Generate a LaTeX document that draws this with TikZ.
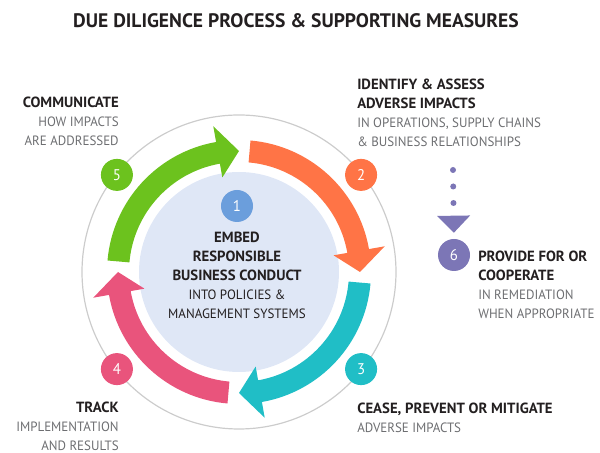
\documentclass[tikz,border=0pt]{standalone}
\usepackage{fontspec}
\setmainfont{PT Sans}[UprightFeatures={FakeStretch=0.96}]
\usetikzlibrary{arrows.meta,positioning}
\definecolor{ring-green}{RGB}{108,194,30}
\definecolor{ring-orange}{RGB}{255,116,70}
\definecolor{ring-cyan}{RGB}{32,190,198}
\definecolor{ring-pink}{RGB}{233,84,124}
\definecolor{core-blue}{RGB}{223,231,246}
\definecolor{num-blue}{RGB}{107,158,220}
\definecolor{num-purple}{RGB}{124,118,182}
\definecolor{light-gray}{gray}{0.80}
\definecolor{text-dark}{RGB}{35,31,32}
\definecolor{text-gray}{RGB}{109,110,113}

\tikzset{
  stepnum/.style={circle, fill=#1, minimum size=0.8cm, inner sep=0pt, text=white,
    font=\fontsize{11}{13}\selectfont},
  steptext/.style={inner sep=0pt, text=text-dark, font=\fontsize{9.6}{13.47}\selectfont},
  dotline/.style={num-purple, line width=0.15cm, line cap=round,
    dash pattern=on 0pt off 0.4125cm, shorten >=0.15cm,
    -{Triangle[width=0.825cm, length=0.425cm, line width=0pt]}}
}
\newcommand{\hd}[1]{{\fontsize{10.5}{13.47}\selectfont\bfseries #1}}
\newcommand{\gr}[1]{\textcolor{text-gray}{#1}}
% #1 colour, #2 angle of the tip
\newcommand{\ringarrow}[2]{%
  \fill[#1] ({#2+85}:132) arc[start angle={#2+85}, end angle={#2+10}, radius=132]
    -- ({#2+10}:148) -- (#2:121) -- ({#2+10}:96) -- ({#2+10}:110)
    arc[start angle={#2+10}, end angle={#2+85}, radius=110] -- cycle;}

\begin{document}
\begin{tikzpicture}[x=0.025cm, y=0.025cm]
\useasboundingbox (0,0) rectangle (600,453);

\node[steptext, anchor=north, font=\fontsize{13.9}{16}\selectfont\bfseries] (title) at (296,440)
  {DUE DILIGENCE PROCESS \& SUPPORTING MEASURES};

% the cycle
\begin{scope}[shift={(239,181)}]
\draw[light-gray, line width=0.03cm] (0,0) circle (157);
\fill[core-blue] (0,0) circle (100);
\ringarrow{ring-green}{90}
\ringarrow{ring-orange}{0}
\ringarrow{ring-cyan}{-90}
\ringarrow{ring-pink}{180}
\node[stepnum=num-blue] (n1) at (-2,66) {1};
\node[stepnum=ring-orange] (n2) at (38.5:156) {2};
\node[stepnum=ring-cyan] (n3) at (-38.5:156) {3};
\node[stepnum=ring-pink] (n4) at (218.5:156) {4};
\node[stepnum=ring-green] (n5) at (141.5:156) {5};
\end{scope}

\node[stepnum=num-purple] (n6) at (454,198) {6};

\node[steptext, anchor=north, align=center] (embed) at (237,221)
  {\hd{EMBED}\\ \hd{RESPONSIBLE}\\ \hd{BUSINESS CONDUCT}\\ INTO POLICIES \&\\ MANAGEMENT SYSTEMS};
\node[steptext, anchor=north west, align=left] (identify) at (357,374)
  {\hd{IDENTIFY \& ASSESS}\\ \hd{ADVERSE IMPACTS}\\ \gr{IN OPERATIONS, SUPPLY CHAINS}\\ \gr{\& BUSINESS RELATIONSHIPS}};
\node[steptext, anchor=north west, align=left] (cease) at (357,50)
  {\hd{CEASE, PREVENT OR MITIGATE}\\ \gr{ADVERSE IMPACTS}};
\node[steptext, anchor=north east, align=right] (track) at (119,51)
  {\hd{TRACK}\\ \gr{IMPLEMENTATION}\\ \gr{AND RESULTS}};
\node[steptext, anchor=north east, align=right] (communicate) at (119,356)
  {\hd{COMMUNICATE}\\ \gr{HOW IMPACTS}\\ \gr{ARE ADDRESSED}};
\node[steptext, anchor=north west, align=left] (provide) at (478,202)
  {\hd{PROVIDE FOR OR}\\ \hd{COOPERATE}\\ \gr{IN REMEDIATION}\\ \gr{WHEN APPROPRIATE}};

\coordinate (dots) at (453,283);
\draw[dotline] (dots) -- (n6.north);

\end{tikzpicture}
\end{document}
